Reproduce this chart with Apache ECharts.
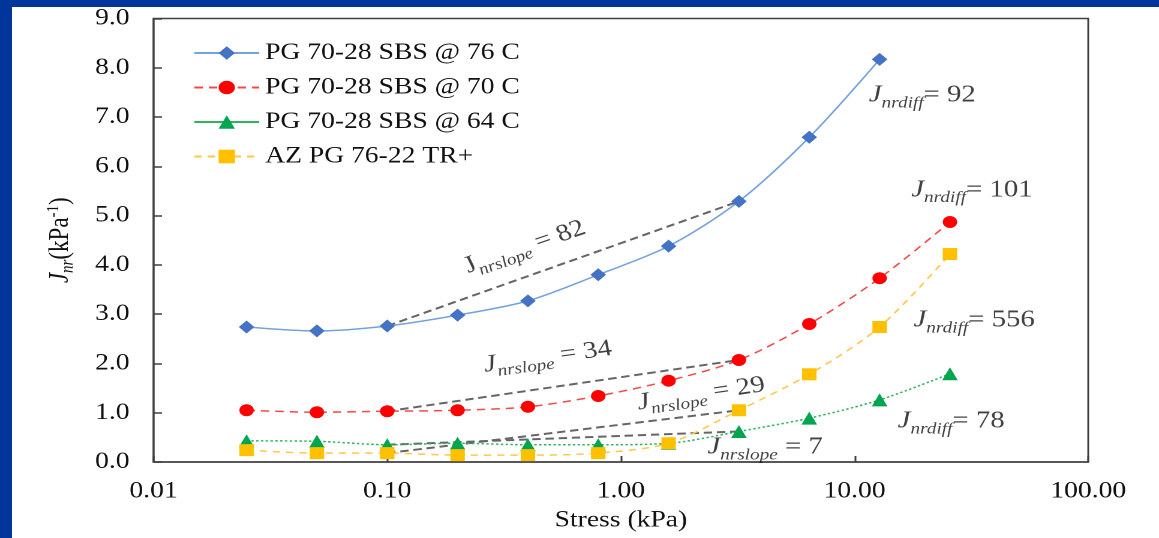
<!DOCTYPE html>
<html>
<head>
<meta charset="utf-8">
<script src="https://cdn.jsdelivr.net/npm/echarts@6/dist/echarts.min.js"></script>
<style>
  html, body { margin: 0; padding: 0; background: #00359b; overflow: hidden; }
  #frame { position: absolute; left: 12px; top: 7px; width: 1147px; height: 531px; background: #fff; overflow: hidden; }
  /* the source picture is a bit stretched sideways, so the chart is drawn narrower and scaled */
  #chart { width: 956px; height: 531px; transform: scaleX(1.1998); transform-origin: 0 0; }
</style>
</head>
<body>
<div id="frame"><div id="chart"></div></div>
<script>
// ---- Data ----
const stress = [0.025, 0.05, 0.1, 0.2, 0.4, 0.8, 1.6, 3.2, 6.4, 12.8, 25.6]
const sbs76 = [2.74, 2.66, 2.76, 2.98, 3.27, 3.80, 4.38, 5.29, 6.59, 8.17]
const sbs70 = [1.05, 1.01, 1.03, 1.05, 1.12, 1.34, 1.65, 2.07, 2.80, 3.73, 4.87]
const sbs64 = [0.43, 0.42, 0.35, 0.38, 0.35, 0.35, 0.38, 0.62, 0.89, 1.26, 1.79]
const azTr = [0.24, 0.18, 0.18, 0.14, 0.14, 0.18, 0.38, 1.05, 1.78, 2.74, 4.22]

const seriesNames = ['PG 70-28 SBS @ 76 C', 'PG 70-28 SBS @ 70 C', 'PG 70-28 SBS @ 64 C', 'AZ PG 76-22 TR+']

// Jnr,slope values and where their text sits (stress, Jnr)
const slopeValues = ['82', '34', '29', '7']
const slopeAnchors = [[0.388, 4.36], [0.486, 2.13], [2.20, 1.38], [4.14, 0.30]]
// Jnr,diff values and where their text sits (stress, Jnr)
const diffValues = ['92', '101', '556', '78']
const diffAnchors = [[19.5, 7.44], [31.8, 5.52], [32.5, 2.88], [25.9, 0.83]]

// slope lines run from 0.1 kPa to 3.2 kPa
const SLOPE_FROM = 2
const SLOPE_TO = 7

const FONT = 'Liberation Serif'
const TEXT_COLOR = '#111111'
const AXIS_COLOR = '#404040'
const SLOPE_COLOR = '#666666'

function pairs(values) {
  return values.map((v, i) => [stress[i], v])
}

function slopeSegment(values) {
  return [[stress[SLOPE_FROM], values[SLOPE_FROM]], [stress[SLOPE_TO], values[SLOPE_TO]]]
}

const noteRich = {
  j: { fontFamily: FONT, fontSize: 24, fontStyle: 'italic', color: TEXT_COLOR },
  ju: { fontFamily: FONT, fontSize: 24, color: TEXT_COLOR },
  s: { fontFamily: FONT, fontSize: 16, fontStyle: 'italic', color: TEXT_COLOR, padding: [16, 0, 0, 0] },
  t: { fontFamily: FONT, fontSize: 24, color: TEXT_COLOR },
}

function noteSeries(text, at, rotate) {
  return {
    type: 'scatter',
    silent: true,
    symbolSize: 0,
    z: 10,
    data: [at],
    label: {
      show: true,
      position: 'inside',
      rotate,
      formatter: text,
      rich: noteRich,
    },
  }
}

function buildOption() {
  const seriesStyles = [
    { data: sbs76, symbol: 'diamond', symbolSize: 13, marker: '#4472c4', line: '#74a3dc', type: 'solid' },
    { data: sbs70, symbol: 'circle', symbolSize: 12, marker: '#ff0000', line: '#f24a4a', type: [7, 5] },
    { data: sbs64, symbol: 'triangle', symbolSize: 13, marker: '#00a550', line: '#2fb45c', type: [2, 2] },
    { data: azTr, symbol: 'rect', symbolSize: 12, marker: '#ffc000', line: '#ffc848', type: [6, 5] },
  ]

  const mainSeries = seriesStyles.map((s, i) => ({
    name: seriesNames[i],
    type: 'line',
    data: pairs(s.data),
    smooth: 0.3,
    symbol: s.symbol,
    symbolSize: s.symbolSize,
    itemStyle: { color: s.marker },
    lineStyle: { color: s.line, width: 1.5, type: s.type },
    z: 4,
  }))

  const slopeLines = [sbs76, sbs70, azTr, sbs64].map((vals) => ({
    type: 'line',
    silent: true,
    data: slopeSegment(vals),
    symbol: 'none',
    lineStyle: { color: SLOPE_COLOR, width: 2, type: [7, 4] },
    z: 3,
  }))

  const slopeAngles = [22, 9, 10, 0]
  const slopeNotes = slopeValues.map((v, i) =>
    noteSeries(`{${i === 0 ? 'ju' : 'j'}|J}{s|nrslope}{t| = ${v}}`, slopeAnchors[i], slopeAngles[i]),
  )
  const diffNotes = diffValues.map((v, i) => noteSeries(`{j|J}{s|nrdiff}{t|= ${v}}`, diffAnchors[i], 0))

  return {
    backgroundColor: 'transparent',
    animation: false,
    grid: {
      left: 118,
      right: 59,
      top: 11,
      bottom: 76,
      show: true,
      borderColor: AXIS_COLOR,
      borderWidth: 1.5,
    },
    legend: {
      orient: 'vertical',
      left: 146,
      top: 29,
      itemWidth: 54,
      itemHeight: 17,
      itemGap: 10.5,
      textStyle: { fontFamily: FONT, fontSize: 23, color: TEXT_COLOR, lineHeight: 24 },
      data: seriesNames.map((name, i) => (i === 2 ? { name, lineStyle: { type: 'solid' } } : { name })),
    },
    xAxis: {
      type: 'log',
      logBase: 10,
      min: 0.01,
      max: 100,
      name: 'Stress (kPa)',
      nameLocation: 'middle',
      nameGap: 47,
      nameTextStyle: { fontFamily: FONT, fontSize: 23, color: TEXT_COLOR },
      axisLine: { lineStyle: { color: AXIS_COLOR, width: 1.5 } },
      axisTick: { inside: true, length: 6, lineStyle: { color: AXIS_COLOR, width: 1.5 } },
      minorTick: { show: false },
      splitLine: { show: false },
      axisLabel: {
        formatter: (v) => Number(v).toFixed(2),
        margin: 18,
        fontFamily: FONT,
        fontSize: 23,
        color: TEXT_COLOR,
      },
    },
    yAxis: {
      type: 'value',
      min: 0,
      max: 9,
      interval: 1,
      name: '{j|J}{s|nr}{t|(kPa}{p|-1}{t|)}',
      nameLocation: 'middle',
      nameGap: 64,
      nameTextStyle: {
        rich: {
          j: { fontFamily: FONT, fontSize: 23, fontStyle: 'italic', color: TEXT_COLOR },
          s: { fontFamily: FONT, fontSize: 15, fontStyle: 'italic', color: TEXT_COLOR, padding: [12, 0, 0, 0] },
          t: { fontFamily: FONT, fontSize: 23, color: TEXT_COLOR },
          p: { fontFamily: FONT, fontSize: 15, color: TEXT_COLOR, padding: [0, 0, 12, 0] },
        },
      },
      axisLine: { show: true, lineStyle: { color: AXIS_COLOR, width: 1.5 } },
      axisTick: { inside: true, length: 7, lineStyle: { color: AXIS_COLOR, width: 1.5 } },
      splitLine: { show: false },
      axisLabel: {
        formatter: (v) => v.toFixed(1),
        margin: 20,
        fontFamily: FONT,
        fontSize: 23,
        color: TEXT_COLOR,
      },
    },
    series: [...slopeLines, ...mainSeries, ...slopeNotes, ...diffNotes],
  }
}

const chart = echarts.init(document.getElementById('chart'), null, { renderer: 'canvas', devicePixelRatio: 2 })
chart.setOption(buildOption())
</script>
</body>
</html>
